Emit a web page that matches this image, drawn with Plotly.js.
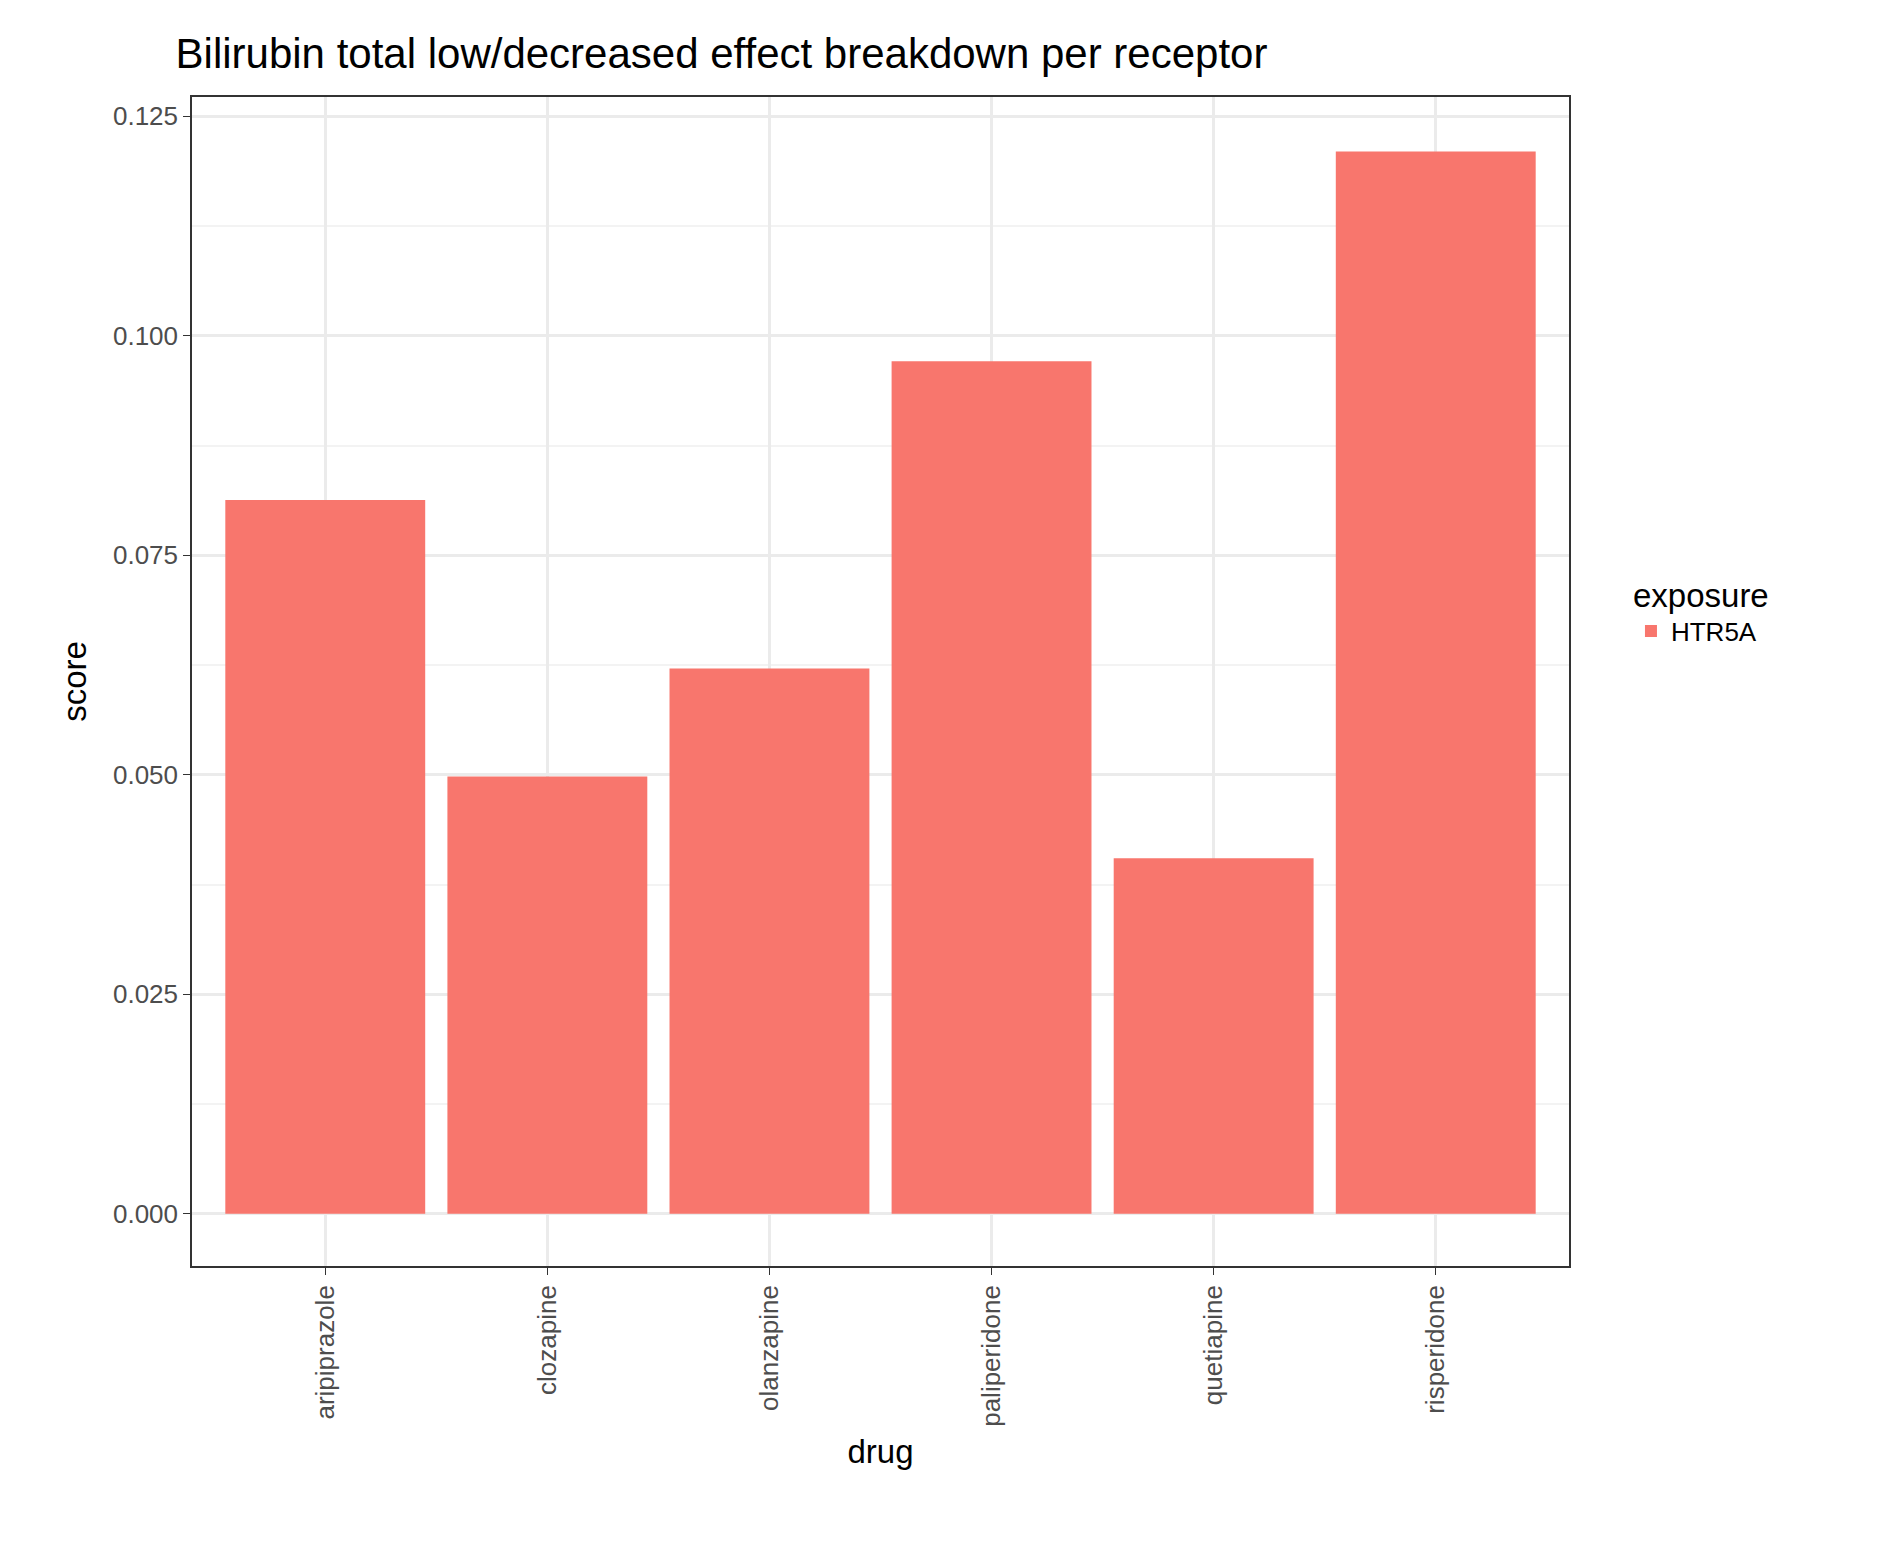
<!DOCTYPE html>
<html>
<head>
<script src="https://cdn.plot.ly/plotly-3.0.1.min.js"></script>
<style>body{margin:0;background:#fff}</style>
</head>
<body>
<div id="graph" style="width:1888px;height:1556px"></div>
<script>
const drugs = ['aripiprazole', 'clozapine', 'olanzapine', 'paliperidone', 'quetiapine', 'risperidone'];
const scores = [0.0813, 0.0498, 0.0621, 0.0971, 0.0405, 0.1210];
const exposure = 'HTR5A';
const yTicks = [0, 0.025, 0.05, 0.075, 0.1, 0.125];
const yTickText = ['0.000', '0.025', '0.050', '0.075', '0.100', '0.125'];

const font = 'Liberation Sans, Arial, sans-serif';

let data = [{
    x: drugs,
    y: scores,
    type: 'bar',
    name: exposure,
    width: 0.9,
    marker: {color: '#f8766d'},
    showlegend: true
}];

let layout = {
    width: 1888,
    height: 1556,
    margin: {l: 192, r: 319, t: 97, b: 290},
    paper_bgcolor: '#fff',
    plot_bgcolor: '#fff',
    font: {family: font, color: '#000'},
    title: {text: 'Bilirubin total low/decreased effect breakdown per receptor',
            font: {size: 42, color: '#000'}, x: 0.093, xanchor: 'left', y: 0.975, yanchor: 'top'},
    xaxis: {
        title: {text: 'drug', font: {size: 33}, standoff: 14},
        tickangle: -90,
        tickfont: {size: 26, color: '#4d4d4d'},
        ticks: 'outside', ticklen: 7, tickcolor: '#333',
        showgrid: true, gridcolor: '#ebebeb', gridwidth: 2.5,
        showline: true, linecolor: '#333', linewidth: 1.5, mirror: true,
        range: [-0.6, 5.6]
    },
    yaxis: {
        title: {text: 'score', font: {size: 33}, standoff: 16},
        range: [-0.00595, 0.1272],
        tickvals: yTicks, ticktext: yTickText,
        tickfont: {size: 26, color: '#4d4d4d'},
        ticks: 'outside', ticklen: 7, tickcolor: '#333',
        showgrid: true, gridcolor: '#ebebeb', gridwidth: 2.5,
        minor: {dtick: 0.0125, tick0: 0.0125, showgrid: true, gridcolor: '#f3f3f3', gridwidth: 1.5, ticks: ''},
        zeroline: false,
        showline: true, linecolor: '#333', linewidth: 1.5, mirror: true
    },
    legend: {
        x: 1.045, y: 0.6, xanchor: 'left', yanchor: 'top',
        title: {text: 'exposure', font: {size: 33}},
        font: {size: 26}
    },
    bargap: 0.1
};

Plotly.newPlot('graph', data, layout, {displayModeBar: false});
</script>
</body>
</html>
